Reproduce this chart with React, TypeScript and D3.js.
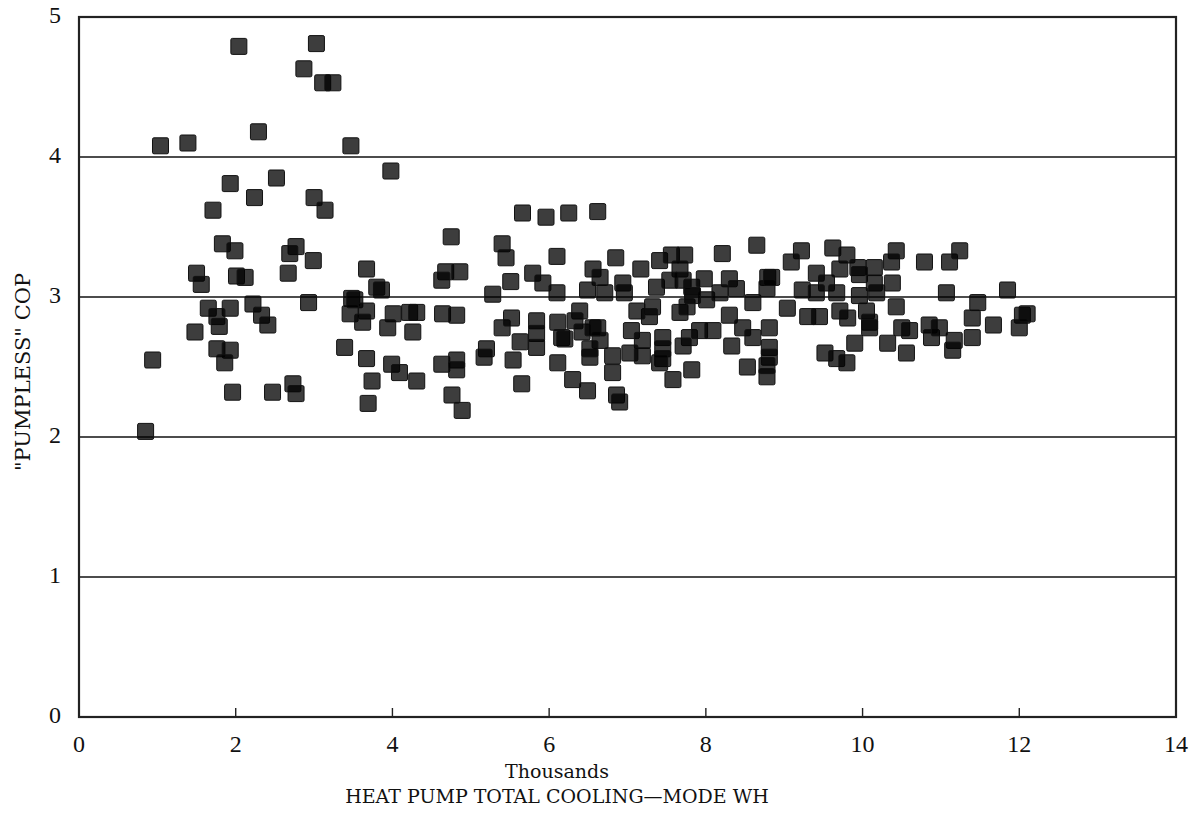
import React, { useEffect, useRef } from 'react';
import * as d3 from 'd3';

// heat pump total cooling-mode energy, thousands of WH
const coolingWh = [
  0.85, 0.94, 1.04, 1.39, 2.04, 3.03, 2.87, 3.11, 3.24, 2.29, 3.47, 3.98, 1.93, 2.52, 2.24, 1.71,
  3.00, 3.14, 1.83, 1.99, 2.77, 2.69, 2.99, 1.50, 1.56, 2.01, 2.12, 2.67, 1.65, 1.93, 1.76, 1.79,
  2.22, 2.33, 2.41, 2.93, 3.48, 3.46, 1.48, 1.76, 1.93, 1.86, 3.39, 1.96, 2.47, 2.73, 2.77,
  4.75, 5.40, 5.45, 6.10, 3.67, 4.68, 4.86, 4.63, 3.80, 3.86, 5.51, 5.79, 5.92, 6.10, 5.28,
  3.52, 3.67, 3.62, 4.01, 4.22, 4.31, 3.94, 4.26, 4.64, 4.82, 5.40, 5.52, 5.63, 5.84, 5.84, 5.84,
  6.11, 6.16, 3.67, 3.99, 4.09, 4.31, 3.74, 3.69, 4.63, 4.82, 4.82, 4.76, 4.89, 5.20, 5.17, 5.54,
  5.65, 6.11, 6.85, 7.17, 8.65, 8.21, 7.41, 7.56, 7.73, 6.56, 6.65, 6.49, 6.71, 6.94, 6.96, 7.37,
  7.32, 7.28, 7.67, 7.71, 7.82, 7.98, 8.30, 8.39, 8.01, 8.18, 8.60, 8.79, 8.78, 7.67, 7.76, 6.39,
  6.33, 8.30, 6.42, 6.20, 6.62, 6.65, 7.05, 7.19, 7.45, 7.45, 7.45, 7.79, 7.71, 7.92, 8.09, 8.33,
  8.47, 8.60, 8.81, 8.81, 8.81, 6.52, 6.52, 6.81, 7.03, 7.19, 6.81, 7.41, 7.58, 7.82, 8.53, 8.78,
  8.78, 6.30, 6.49, 6.86, 6.90, 9.22, 9.09, 9.62, 9.80, 9.94, 10.15, 10.43, 10.37, 10.79, 11.11,
  11.24, 8.84, 9.41, 9.54, 9.71, 9.96, 10.15, 9.23, 9.41, 9.67, 9.96, 10.18, 10.38, 11.07, 11.47,
  11.85, 9.04, 9.30, 9.45, 9.71, 9.81, 10.05, 10.09, 10.09, 10.43, 10.50, 10.60, 10.85, 10.88,
  11.17, 11.15, 11.40, 11.40, 11.67, 12.04, 12.00, 12.10, 9.90, 10.32, 10.56, 9.52, 9.67, 9.80,
  5.66, 5.96, 6.25, 6.62, 10.98, 7.54, 7.12, 6.56, 7.83,
];

// "pumpless" coefficient of performance
const pumplessCop = [
  2.04, 2.55, 4.08, 4.10, 4.79, 4.81, 4.63, 4.53, 4.53, 4.18, 4.08, 3.90, 3.81, 3.85, 3.71, 3.62,
  3.71, 3.62, 3.38, 3.33, 3.36, 3.31, 3.26, 3.17, 3.09, 3.15, 3.14, 3.17, 2.92, 2.92, 2.86, 2.79,
  2.95, 2.87, 2.80, 2.96, 2.99, 2.88, 2.75, 2.63, 2.62, 2.53, 2.64, 2.32, 2.32, 2.38, 2.31,
  3.43, 3.38, 3.28, 3.29, 3.20, 3.18, 3.18, 3.12, 3.07, 3.05, 3.11, 3.17, 3.10, 3.03, 3.02,
  2.98, 2.90, 2.82, 2.88, 2.89, 2.89, 2.78, 2.75, 2.88, 2.87, 2.78, 2.85, 2.68, 2.83, 2.74, 2.64,
  2.82, 2.71, 2.56, 2.52, 2.46, 2.40, 2.40, 2.24, 2.52, 2.55, 2.48, 2.30, 2.19, 2.63, 2.57, 2.55,
  2.38, 2.53, 3.28, 3.20, 3.37, 3.31, 3.26, 3.30, 3.30, 3.20, 3.14, 3.05, 3.03, 3.10, 3.03, 3.07,
  2.93, 2.86, 3.20, 3.12, 3.07, 3.13, 3.13, 3.06, 2.98, 3.03, 2.96, 3.14, 3.06, 2.89, 2.93, 2.90,
  2.83, 2.87, 2.75, 2.70, 2.78, 2.69, 2.76, 2.69, 2.71, 2.63, 2.56, 2.71, 2.65, 2.76, 2.76, 2.65,
  2.78, 2.71, 2.78, 2.64, 2.57, 2.57, 2.63, 2.58, 2.60, 2.58, 2.46, 2.53, 2.41, 2.48, 2.50, 2.43,
  2.51, 2.41, 2.33, 2.30, 2.25, 3.33, 3.25, 3.35, 3.30, 3.21, 3.21, 3.33, 3.25, 3.25, 3.25,
  3.33, 3.14, 3.17, 3.10, 3.20, 3.16, 3.10, 3.05, 3.03, 3.03, 3.01, 3.03, 3.10, 3.03, 2.96,
  3.05, 2.92, 2.86, 2.86, 2.90, 2.85, 2.90, 2.82, 2.78, 2.93, 2.78, 2.76, 2.80, 2.71,
  2.69, 2.62, 2.85, 2.71, 2.80, 2.87, 2.78, 2.88, 2.67, 2.67, 2.60, 2.60, 2.56, 2.53,
  3.60, 3.57, 3.60, 3.61, 2.78, 3.12, 2.90, 2.78, 3.01,
];

const xTicks = [0, 2, 4, 6, 8, 10, 12, 14];
const yTicks = [0, 1, 2, 3, 4, 5];
const gridLines = [1, 2, 3, 4];

const App = () => {
  const ref = useRef<SVGSVGElement>(null);

  useEffect(() => {
    const width = 1196, height = 813;
    const margin = { top: 17, right: 20, bottom: 96, left: 79 };
    const svg = d3.select(ref.current);
    svg.selectAll('*').remove();
    svg.attr('width', width).attr('height', height);

    const numFont = '"Liberation Serif", "DejaVu Serif", serif';
    const font = '"DejaVu Serif", "Liberation Serif", serif';

    const x = d3.scaleLinear().domain([0, 14]).range([margin.left, width - margin.right]);
    const y = d3.scaleLinear().domain([0, 5]).range([height - margin.bottom, margin.top]);

    // horizontal grid lines
    svg.append('g')
      .selectAll('line')
      .data(gridLines)
      .enter().append('line')
      .attr('x1', x(0)).attr('x2', x(14))
      .attr('y1', d => y(d)).attr('y2', d => y(d))
      .attr('stroke', '#111').attr('stroke-width', 1.6);

    // frame
    svg.append('rect')
      .attr('x', x(0)).attr('y', y(5))
      .attr('width', x(14) - x(0)).attr('height', y(0) - y(5))
      .attr('fill', 'none').attr('stroke', '#222').attr('stroke-width', 2.2);

    // x tick marks pointing up from bottom axis
    svg.append('g')
      .selectAll('line')
      .data(xTicks.slice(1, -1))
      .enter().append('line')
      .attr('x1', d => x(d)).attr('x2', d => x(d))
      .attr('y1', y(0)).attr('y2', y(0) - 9)
      .attr('stroke', '#222').attr('stroke-width', 1.4);

    svg.append('g')
      .selectAll('text')
      .data(xTicks)
      .enter().append('text')
      .attr('x', d => x(d))
      .attr('y', y(0) + 35)
      .attr('text-anchor', 'middle')
      .attr('font-family', numFont).attr('font-size', 24)
      .attr('fill', '#111')
      .text(d => d);

    svg.append('g')
      .selectAll('text')
      .data(yTicks)
      .enter().append('text')
      .attr('x', 61)
      .attr('y', d => y(d))
      .attr('dy', '0.25em')
      .attr('text-anchor', 'end')
      .attr('font-family', numFont).attr('font-size', 24)
      .attr('fill', '#111')
      .text(d => d);

    // points
    const pts = coolingWh.map((v, i) => ({ x: v, y: pumplessCop[i] }));
    const s = 16;
    svg.append('g')
      .selectAll('rect')
      .data(pts)
      .enter().append('rect')
      .attr('x', d => x(d.x) - s / 2)
      .attr('y', d => y(d.y) - s / 2)
      .attr('width', s).attr('height', s)
      .attr('rx', 1.5)
      .attr('fill', '#000').attr('fill-opacity', 0.76)
      .attr('stroke', '#111').attr('stroke-width', 1);

    svg.append('text')
      .attr('x', 557).attr('y', y(0) + 61)
      .attr('text-anchor', 'middle')
      .attr('font-family', font).attr('font-size', 19)
      .attr('fill', '#111')
      .text('Thousands');

    svg.append('text')
      .attr('x', 557).attr('y', y(0) + 86)
      .attr('text-anchor', 'middle')
      .attr('font-family', font).attr('font-size', 19)
      .attr('fill', '#111')
      .text('HEAT PUMP TOTAL COOLING\u2014MODE WH');

    svg.append('text')
      .attr('transform', `translate(30, ${y(2.5) + 5}) rotate(-90)`)
      .attr('text-anchor', 'middle')
      .attr('font-family', font).attr('font-size', 21)
      .attr('fill', '#111')
      .text('"PUMPLESS" COP');
  }, []);

  return <svg ref={ref} style={{ position: 'absolute', left: 0, top: 0 }} />;
};

export default App;
